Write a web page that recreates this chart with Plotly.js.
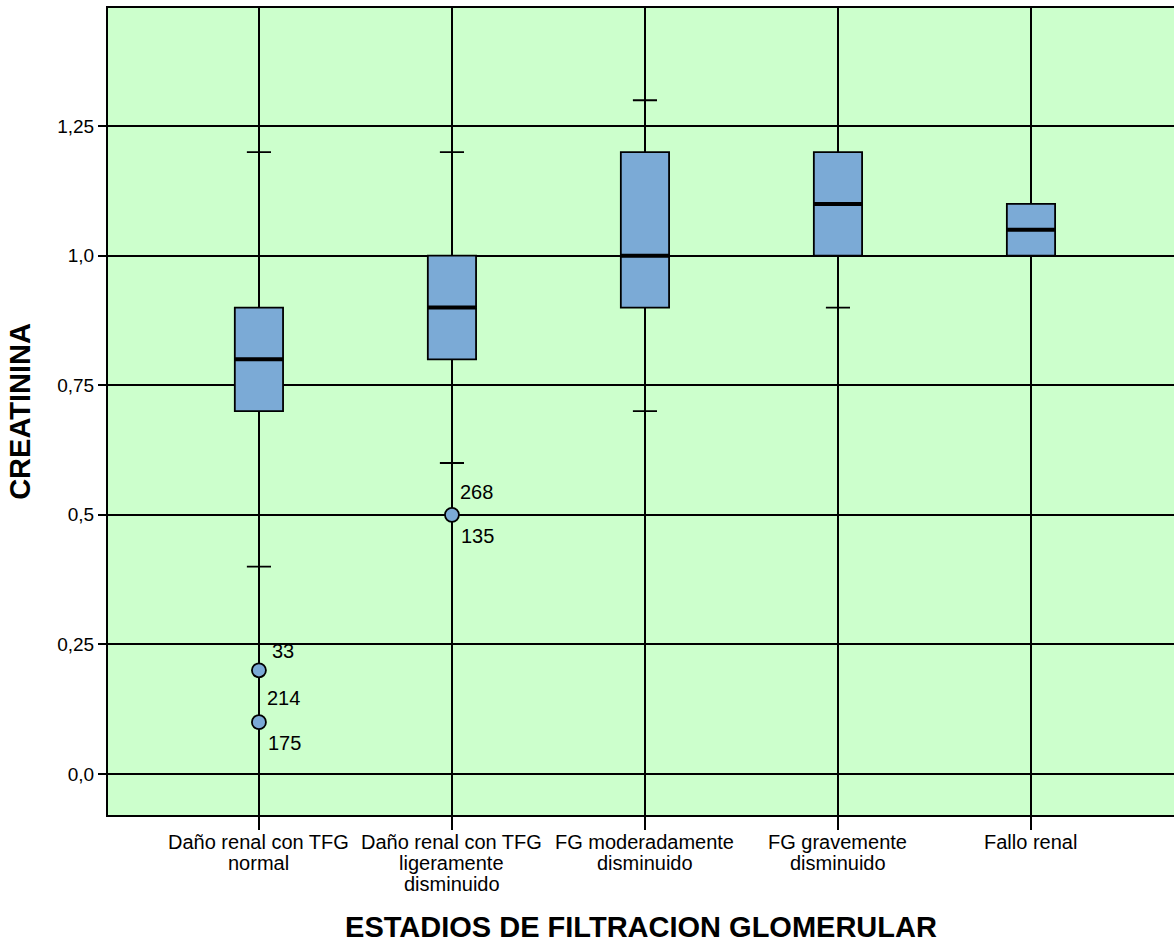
<!DOCTYPE html>
<html>
<head>
<meta charset="utf-8">
<script src="https://cdn.plot.ly/plotly-3.0.1.min.js"></script>
<style>html,body{margin:0;padding:0;background:#fff;}</style>
</head>
<body>
<div id="chart" style="width:1174px;height:943px;"></div>
<script>
const categories = ["Daño renal con TFG<br>normal", "Daño renal con TFG<br>ligeramente<br>disminuido", "FG moderadamente<br>disminuido", "FG gravemente<br>disminuido", "Fallo renal"];
const lowerFence = [0.4, 0.6, 0.7, 0.9, 1.0];
const q1 = [0.7, 0.8, 0.9, 1.0, 1.0];
const median = [0.8, 0.9, 1.0, 1.1, 1.05];
const q3 = [0.9, 1.0, 1.2, 1.2, 1.1];
const upperFence = [1.2, 1.2, 1.3, 1.2, 1.1];
const outlierCat = [0, 0, 1];
const outlierY = [0.2, 0.1, 0.5];
const labelCat = [0, 0, 0, 1, 1];
const labelY = [0.2, 0.2, 0.1, 0.5, 0.5];
const labelText = ["33", "214", "175", "268", "135"];
const yTickVals = [0, 0.25, 0.5, 0.75, 1.0, 1.25];
const yTickText = ["0,0", "0,25", "0,5", "0,75", "1,0", "1,25"];

// label placement (style, not data)
const labelShift = [[11, 19], [6, -28], [7, -21], [6, 23], [7, -21]];

const FONT = "Liberation Sans, Arial, sans-serif";

const boxTrace = {
  type: "box",
  x: categories,
  q1: q1, median: median, q3: q3,
  lowerfence: lowerFence, upperfence: upperFence,
  width: 0.25,
  whiskerwidth: 0.5,
  fillcolor: "#7BAAD6",
  line: {color: "#000000", width: 1.8},
  boxpoints: false,
  hoverinfo: "skip",
  showlegend: false
};
const medianTrace = {
  type: "box",
  x: categories,
  q1: median, median: median, q3: median,
  lowerfence: median, upperfence: median,
  width: 0.25,
  whiskerwidth: 0,
  fillcolor: "rgba(0,0,0,0)",
  line: {color: "#000000", width: 4},
  boxpoints: false,
  hoverinfo: "skip",
  showlegend: false
};
const outlierTrace = {
  type: "scatter",
  mode: "markers",
  x: outlierCat.map(i => categories[i]),
  y: outlierY,
  marker: {size: 14, color: "#7BAAD6", line: {color: "#000000", width: 1.8}},
  hoverinfo: "skip",
  showlegend: false
};

const annotations = labelText.map((t, i) => ({
  x: categories[labelCat[i]], y: labelY[i], xref: "x", yref: "y",
  text: t, showarrow: false,
  xanchor: "left", yanchor: "middle",
  xshift: labelShift[i][0], yshift: labelShift[i][1],
  font: {family: FONT, size: 20, color: "#000"}
}));

// category tick labels, one text line each, tightly spaced as in the original
categories.forEach(c => {
  c.split("<br>").forEach((line, j) => {
    annotations.push({
      x: c, y: 0, xref: "x", yref: "paper",
      text: line, showarrow: false,
      xanchor: "center", yanchor: "middle",
      yshift: -27 - 21 * j,
      font: {family: FONT, size: 20, color: "#000"}
    });
  });
});

const layout = {
  width: 1174, height: 943,
  margin: {l: 108, r: 0, t: 8, b: 128},
  paper_bgcolor: "#ffffff",
  plot_bgcolor: "#CCFFCC",
  boxmode: "overlay",
  font: {family: FONT, size: 19, color: "#000"},
  xaxis: {
    type: "category",
    range: [-0.782, 4.741],
    showgrid: true, gridcolor: "#000", gridwidth: 2,
    showline: true, linecolor: "#000", linewidth: 2, mirror: true,
    ticks: "outside", ticklen: 13, tickwidth: 2, tickcolor: "#000",
    showticklabels: false,
    title: {text: "<b>ESTADIOS DE FILTRACION GLOMERULAR</b>", font: {size: 29}, standoff: 90},
    fixedrange: true
  },
  yaxis: {
    range: [-0.0792, 1.478],
    tickvals: yTickVals, ticktext: yTickText,
    showgrid: true, gridcolor: "#000", gridwidth: 2,
    zeroline: false,
    showline: true, linecolor: "#000", linewidth: 2,
    ticks: "outside", ticklen: 8, tickwidth: 2, tickcolor: "#000",
    tickfont: {size: 19},
    title: {text: "<b>CREATININA</b>", font: {size: 29}, standoff: 18},
    fixedrange: true
  },
  annotations: annotations
};

Plotly.newPlot("chart", [boxTrace, medianTrace, outlierTrace], layout, {displayModeBar: false, staticPlot: true});
</script>
</body>
</html>
